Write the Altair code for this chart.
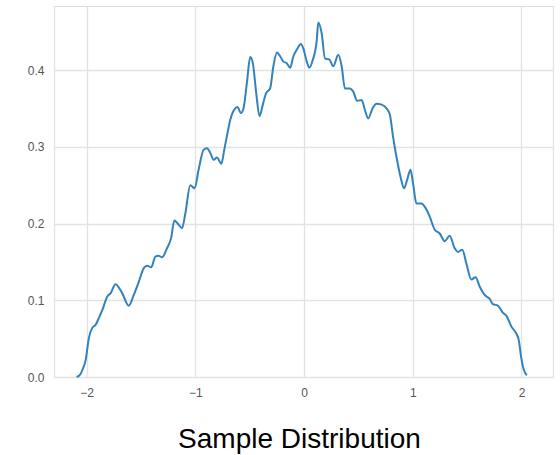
import altair as alt
import pandas as pd

x_vals = [-2.092, -2.055, -2.037, -2.009, -1.979, -1.948, -1.917, -1.887, -1.856, -1.810,
          -1.780, -1.734, -1.672, -1.612, -1.566, -1.520, -1.474, -1.443, -1.406, -1.367,
          -1.339, -1.306, -1.260, -1.223, -1.193, -1.162, -1.122, -1.092, -1.046, -1.006,
          -0.970, -0.924, -0.893, -0.862, -0.832, -0.801, -0.761, -0.734, -0.704, -0.679,
          -0.633, -0.612, -0.581, -0.557, -0.526, -0.495, -0.471, -0.440, -0.410, -0.379,
          -0.349, -0.312, -0.282, -0.250, -0.220, -0.190, -0.159, -0.128, -0.098, -0.061,
          -0.030, -0.006, 0.025, 0.049, 0.080, 0.117, 0.131, 0.162, 0.193, 0.232,
          0.269, 0.315, 0.346, 0.376, 0.422, 0.452, 0.489, 0.529, 0.560, 0.590,
          0.630, 0.667, 0.713, 0.759, 0.789, 0.819, 0.850, 0.887, 0.920, 0.948,
          0.979, 1.003, 1.034, 1.080, 1.110, 1.156, 1.202, 1.248, 1.294, 1.339,
          1.385, 1.416, 1.456, 1.493, 1.539, 1.578, 1.615, 1.661, 1.706, 1.737,
          1.783, 1.828, 1.865, 1.906, 1.951, 1.975, 1.997, 2.018, 2.049]
density = [0.000, 0.004, 0.010, 0.022, 0.051, 0.064, 0.068, 0.077, 0.087, 0.105,
           0.109, 0.121, 0.109, 0.093, 0.107, 0.124, 0.142, 0.145, 0.143, 0.157,
           0.158, 0.156, 0.168, 0.181, 0.204, 0.200, 0.194, 0.213, 0.250, 0.246,
           0.270, 0.296, 0.298, 0.292, 0.283, 0.286, 0.278, 0.296, 0.318, 0.335,
           0.350, 0.352, 0.344, 0.350, 0.383, 0.417, 0.409, 0.370, 0.340, 0.355,
           0.370, 0.376, 0.405, 0.423, 0.418, 0.411, 0.409, 0.403, 0.418, 0.428,
           0.434, 0.428, 0.411, 0.403, 0.413, 0.439, 0.462, 0.448, 0.415, 0.414,
           0.405, 0.420, 0.405, 0.376, 0.376, 0.372, 0.360, 0.361, 0.348, 0.337,
           0.350, 0.356, 0.355, 0.350, 0.342, 0.313, 0.287, 0.261, 0.246, 0.257,
           0.270, 0.252, 0.226, 0.226, 0.222, 0.209, 0.192, 0.187, 0.177, 0.184,
           0.168, 0.163, 0.166, 0.148, 0.127, 0.130, 0.118, 0.107, 0.102, 0.095,
           0.093, 0.084, 0.079, 0.066, 0.057, 0.048, 0.026, 0.011, 0.002]
x_ticks = [-2, -1, 0, 1, 2]
y_ticks = [0.0, 0.1, 0.2, 0.3, 0.4]

df = pd.DataFrame({"x": x_vals, "density": density})

GRID = "#e2e2e2"
LABEL = "#555555"

x_enc = alt.X("x:Q", scale=alt.Scale(domain=[-2.30, 2.29], nice=False, zero=False),
              axis=alt.Axis(values=x_ticks, format="d", grid=True, gridColor=GRID, gridWidth=1.3,
                            ticks=False, domain=False, labelColor=LABEL, labelFontSize=12,
                            labelFont="Liberation Sans", labelPadding=10,
                            title="Sample Distribution", titleFont="Liberation Sans",
                            titleFontSize=28, titleFontWeight="normal", titleColor="black",
                            titleBaseline="alphabetic", titleY=70, titleX=245))
y_scale = alt.Scale(domain=[0, 0.4835], nice=False)

line = alt.Chart(df).mark_line(color="#3182bd", strokeWidth=2, interpolate="monotone").encode(
    x=x_enc,
    y=alt.Y("density:Q", scale=y_scale,
            axis=alt.Axis(values=y_ticks, format=".1f", grid=True, gridColor=GRID, gridWidth=1.3,
                          ticks=False, domain=True, domainColor=GRID, domainWidth=1.3,
                          labelColor=LABEL, labelFontSize=12, labelFont="Liberation Sans",
                          labelPadding=10, title=None)),
)

right = alt.Chart(df).mark_line(opacity=0).encode(
    x=alt.X("x:Q", scale=alt.Scale(domain=[-2.30, 2.29], nice=False, zero=False)),
    y=alt.Y("density:Q", scale=y_scale,
            axis=alt.Axis(orient="right", labels=False, ticks=False, grid=False, domain=True,
                          domainColor=GRID, domainWidth=1.3, title=None)),
)

chart = alt.layer(line, right).resolve_axis(y="independent").properties(
    width=499, height=371,
    autosize=alt.AutoSizeParams(type="none"),
    padding={"left": 54, "top": 6, "right": 7, "bottom": 78},
).configure_view(stroke=None).configure(background="white")

chart.save("out.html", embed_options={"renderer": "svg", "actions": False})
